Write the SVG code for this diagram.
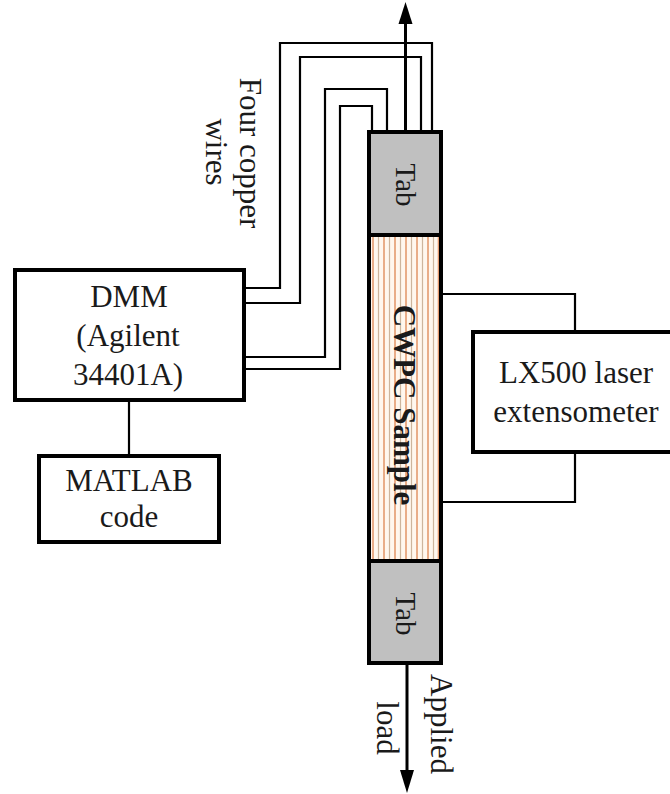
<svg xmlns="http://www.w3.org/2000/svg" width="670" height="794" viewBox="0 0 670 794">
<defs>
<style>
.box{fill:#fff;stroke:#000;stroke-width:4}
.tab{fill:#c0c0c0;stroke:#000;stroke-width:4}
.wire{fill:none;stroke:#000;stroke-width:2.2}
.lbl{font-family:"Liberation Serif","Times New Roman",serif;font-size:31px;fill:#1a1a1a;text-anchor:middle}
.so{stroke:#e49a6e;stroke-width:1.6}
.st{stroke:#cdb59c;stroke-width:1.2}
</style>
</defs>
<rect width="670" height="794" fill="#fff"/>
<g id="connectors">
<path class="wire" d="M246,288 H280 V43 H432 V132"/>
<path class="wire" d="M246,303 H300 V57 H421 V132"/>
<path class="wire" d="M246,357 H325 V89 H387 V132"/>
<path class="wire" d="M246,369 H340 V106 H372 V132"/>
<path class="wire" d="M129,402 V454"/>
<path class="wire" d="M443,294 H575 V332"/>
<path class="wire" d="M575,452 V502 H443"/>
<line x1="405.5" y1="132" x2="405.5" y2="20" stroke="#000" stroke-width="3"/>
<polygon points="405.5,2 398.5,24 412.5,24" fill="#000"/>
<line x1="407" y1="663" x2="407" y2="774" stroke="#000" stroke-width="3"/>
<polygon points="407,793 400,770 414,770" fill="#000"/>
</g>
<g id="dmm">
<rect class="box" x="15" y="270" width="229" height="130"/>
<text class="lbl" x="129" y="307">DMM</text>
<text class="lbl" x="128" y="346">(Agilent</text>
<text class="lbl" x="128" y="385">34401A)</text>
</g>
<g id="matlab">
<rect class="box" x="39" y="456" width="180" height="86"/>
<text class="lbl" x="129" y="491">MATLAB</text>
<text class="lbl" x="129" y="527">code</text>
</g>
<g id="lx500">
<rect class="box" x="473" y="332" width="205" height="120"/>
<text class="lbl" x="576" y="383">LX500 laser</text>
<text class="lbl" x="576" y="422">extensometer</text>
</g>
<g id="sample">
<rect x="369" y="235" width="72" height="326" fill="#fff7ee"/>
<g>
<line class="so" x1="373" y1="237" x2="373" y2="559"/>
<line class="st" x1="378.5" y1="237" x2="378.5" y2="559"/>
<line class="so" x1="384" y1="237" x2="384" y2="559"/>
<line class="st" x1="389.5" y1="237" x2="389.5" y2="559"/>
<line class="so" x1="395" y1="237" x2="395" y2="559"/>
<line class="st" x1="400.5" y1="237" x2="400.5" y2="559"/>
<line class="so" x1="406" y1="237" x2="406" y2="559"/>
<line class="st" x1="411.5" y1="237" x2="411.5" y2="559"/>
<line class="so" x1="417" y1="237" x2="417" y2="559"/>
<line class="st" x1="422.5" y1="237" x2="422.5" y2="559"/>
<line class="so" x1="428" y1="237" x2="428" y2="559"/>
<line class="st" x1="433.5" y1="237" x2="433.5" y2="559"/>
<line class="so" x1="438.5" y1="237" x2="438.5" y2="559"/>
</g>
<rect x="369" y="235" width="72" height="326" fill="none" stroke="#000" stroke-width="4"/>
<text class="lbl" font-weight="bold" transform="translate(404,405) rotate(90)" y="10">CWPC Sample</text>
</g>
<g id="tab-top">
<rect class="tab" x="369" y="132" width="72" height="103"/>
<text class="lbl" style="font-size:29px" transform="translate(405,185) rotate(90)" y="9.5">Tab</text>
</g>
<g id="tab-bottom">
<rect class="tab" x="369" y="561" width="72" height="102"/>
<text class="lbl" style="font-size:29px" transform="translate(405,614) rotate(90)" y="9.5">Tab</text>
</g>
<g id="wires-label">
<text class="lbl" transform="translate(250,153) rotate(90)" y="10">Four copper</text>
<text class="lbl" transform="translate(213,152) rotate(90)" y="7">wires</text>
</g>
<g id="load-label">
<text class="lbl" transform="translate(441,724) rotate(90)" y="10">Applied</text>
<text class="lbl" transform="translate(384,728) rotate(90)" y="7">load</text>
</g>
</svg>
